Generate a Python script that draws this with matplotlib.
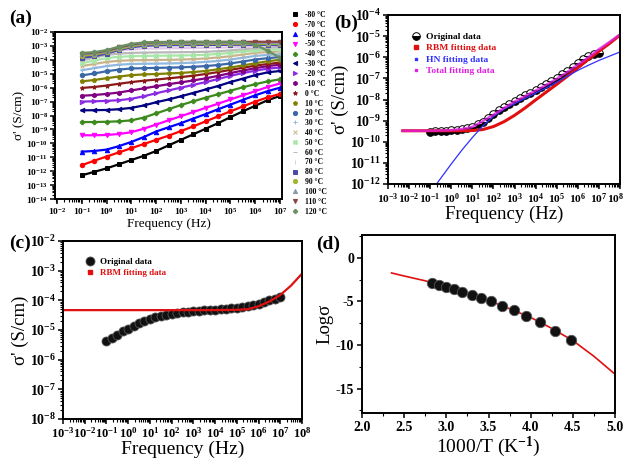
import numpy as np
import matplotlib
matplotlib.use("Agg")
import matplotlib.pyplot as plt
from matplotlib.lines import Line2D
from matplotlib.ticker import LogLocator, MultipleLocator, NullFormatter
from matplotlib.transforms import ScaledTranslation

# ==== FONT SETUP ====
plt.rcParams['font.family'] = ['Liberation Serif', 'DejaVu Serif']
plt.rcParams['font.weight'] = 'bold'
plt.rcParams['mathtext.fontset'] = 'custom'
plt.rcParams['mathtext.rm'] = 'Liberation Serif:bold'
plt.rcParams['mathtext.it'] = 'Liberation Serif:italic:bold'
plt.rcParams['mathtext.bf'] = 'Liberation Serif:bold'
plt.rcParams['axes.linewidth'] = 1.4
plt.rcParams['axes.unicode_minus'] = False


# ==== DATA: panel (a), log10(sigma') vs log10(f) ====
freq_a = [-1, -0.5, 0, 0.5, 1, 1.5, 2, 2.5, 3, 3.5, 4, 4.5, 5, 5.5, 6, 6.5, 7]

s_m80 = [-12.3, -12.05, -11.8, -11.5, -11.2, -10.9, -10.55, -10.15, -9.75, -9.35, -8.95, -8.55, -8.12, -7.7, -7.3, -6.9, -6.6]
s_m70 = [-11.57, -11.25, -10.95, -10.65, -10.35, -10.05, -9.75, -9.45, -9.12, -8.78, -8.42, -8.06, -7.7, -7.35, -7.0, -6.7, -6.45]
s_m60 = [-10.6, -10.55, -10.45, -10.2, -9.9, -9.55, -9.15, -8.85, -8.55, -8.22, -7.9, -7.55, -7.22, -6.88, -6.55, -6.25, -6.0]
s_m50 = [-9.42, -9.42, -9.4, -9.33, -9.2, -8.95, -8.65, -8.35, -8.05, -7.75, -7.45, -7.15, -6.85, -6.55, -6.25, -5.95, -5.7]
s_m40 = [-8.47, -8.47, -8.45, -8.42, -8.35, -8.15, -7.85, -7.55, -7.25, -6.98, -6.72, -6.47, -6.22, -5.97, -5.75, -5.55, -5.4]
s_m30 = [-7.63, -7.62, -7.6, -7.55, -7.45, -7.28, -7.05, -6.85, -6.62, -6.38, -6.13, -5.88, -5.6, -5.35, -5.1, -4.9, -4.8]
s_m20 = [-7.0, -6.98, -6.95, -6.9, -6.8, -6.62, -6.4, -6.2, -6.0, -5.8, -5.6, -5.38, -5.15, -4.95, -4.78, -4.63, -4.55]
s_m10 = [-6.58, -6.53, -6.45, -6.35, -6.2, -6.05, -5.9, -5.75, -5.62, -5.48, -5.33, -5.15, -4.95, -4.77, -4.6, -4.45, -4.35]
s_p0 = [-6.02, -5.95, -5.85, -5.72, -5.6, -5.5, -5.42, -5.33, -5.24, -5.14, -5.02, -4.88, -4.72, -4.57, -4.42, -4.3, -4.2]
s_p10 = [-5.55, -5.45, -5.32, -5.2, -5.1, -5.05, -5.02, -4.98, -4.94, -4.88, -4.8, -4.68, -4.55, -4.4, -4.25, -4.1, -4.0]
s_p20 = [-5.12, -4.98, -4.82, -4.7, -4.62, -4.6, -4.58, -4.56, -4.54, -4.5, -4.45, -4.37, -4.26, -4.12, -3.98, -3.88, -3.8]
s_p30 = [-4.75, -4.6, -4.45, -4.35, -4.3, -4.28, -4.27, -4.26, -4.24, -4.2, -4.15, -4.08, -3.98, -3.85, -3.72, -3.64, -3.6]
s_p40 = [-4.45, -4.3, -4.15, -4.07, -4.03, -4.02, -4.01, -4.0, -3.98, -3.95, -3.9, -3.83, -3.74, -3.62, -3.5, -3.44, -3.4]
s_p50 = [-4.25, -4.05, -3.88, -3.78, -3.74, -3.72, -3.71, -3.7, -3.69, -3.67, -3.64, -3.58, -3.5, -3.4, -3.32, -3.27, -3.25]
s_p60 = [-4.05, -3.85, -3.65, -3.55, -3.5, -3.48, -3.47, -3.46, -3.45, -3.44, -3.42, -3.38, -3.32, -3.24, -3.17, -3.12, -3.1]
s_p70 = [-3.9, -3.7, -3.5, -3.35, -3.25, -3.2, -3.18, -3.17, -3.16, -3.15, -3.14, -3.12, -3.1, -3.07, -3.04, -3.01, -3.0]
s_p80 = [-3.85, -3.75, -3.55, -3.3, -3.1, -3.0, -2.96, -2.95, -2.94, -2.94, -2.93, -2.93, -2.92, -2.92, -2.92, -2.93, -2.95]
s_p90 = [-3.7, -3.62, -3.45, -3.22, -3.02, -2.9, -2.86, -2.85, -2.84, -2.84, -2.84, -2.84, -2.84, -2.84, -2.84, -2.85, -2.86]
s_p100 = [-3.6, -3.55, -3.4, -3.15, -2.95, -2.84, -2.8, -2.79, -2.78, -2.78, -2.78, -2.78, -2.78, -2.78, -2.78, -2.79, -2.8]
s_p110 = [-3.55, -3.5, -3.35, -3.1, -2.9, -2.78, -2.74, -2.73, -2.72, -2.72, -2.72, -2.72, -2.72, -2.71, -2.7, -2.7, -2.7]
s_p120 = [-3.5, -3.45, -3.3, -3.05, -2.85, -2.75, -2.72, -2.71, -2.7, -2.7, -2.7, -2.7, -2.7, -2.72, -2.9, -3.35, -3.85]

temp_labels = ['-80 °C', '-70 °C', '-60 °C', '-50 °C', '-40 °C', '-30 °C', '-20 °C',
               '-10 °C', '0 °C', '10 °C', '20 °C', '30 °C', '40 °C', '50 °C', '60 °C',
               '70 °C', '80 °C', '90 °C', '100 °C', '110 °C', '120 °C']
curves_a = [s_m80, s_m70, s_m60, s_m50, s_m40, s_m30, s_m20, s_m10, s_p0, s_p10, s_p20,
            s_p30, s_p40, s_p50, s_p60, s_p70, s_p80, s_p90, s_p100, s_p110, s_p120]
colors_a = ['#000000', '#ff0000', '#0000ff', '#ff00ff', '#3c8a1e', '#000080', '#8a2be2',
            '#800080', '#8b1a1a', '#808000', '#3a67a8', '#8fb8e0', '#c8b48c', '#a8e6a8',
            '#b8b8b8', '#e0c8e8', '#4a4aa8', '#a0b430', '#8898a8', '#8b4444', '#6a8f60']
markers_a = ['s', 'o', '^', 'v', 'P', '<', '>', 'h', '*', 'p', 'o', '+', 'x', 'X', '_',
             '|', 's', 'o', '^', 'v', 'P']

# ==== DATA: panel (b) ====
freq_b = [-1, -0.75, -0.5, -0.25, 0, 0.25, 0.5, 0.75, 1, 1.25, 1.5, 1.75, 2, 2.25, 2.5, 2.75,
          3, 3.25, 3.5, 3.75, 4, 4.25, 4.5, 4.75, 5, 5.25, 5.5, 5.75, 6, 6.25, 6.5, 6.75, 7]
orig_b = [-9.52, -9.51, -9.5, -9.48, -9.46, -9.43, -9.4, -9.35, -9.28, -9.18, -9.05, -8.88,
          -8.68, -8.5, -8.35, -8.2, -8.05, -7.92, -7.8, -7.67, -7.53, -7.4, -7.26, -7.11,
          -6.96, -6.8, -6.63, -6.45, -6.27, -6.1, -5.95, -5.85, -5.78]
fit_f_b = [-2.3, -1.5, -1, -0.5, 0, 0.5, 1, 1.5, 2, 2.5, 3, 3.5, 4, 4.5, 5, 5.5, 6, 6.5, 7, 7.5, 8]
rbm_b = [-9.48, -9.48, -9.48, -9.48, -9.48, -9.48, -9.47, -9.42, -9.28, -9.05, -8.75, -8.4,
         -8.02, -7.65, -7.28, -6.9, -6.5, -6.1, -5.72, -5.35, -4.95]
total_b = [-9.48, -9.48, -9.48, -9.47, -9.45, -9.4, -9.3, -9.02, -8.72, -8.4, -8.1, -7.84,
           -7.58, -7.31, -7.02, -6.7, -6.35, -6.0, -5.62, -5.28, -4.92]
hn_f_b = [-0.7, 0, 0.5, 1, 1.5, 2, 2.5, 3, 3.5, 4, 4.5, 5, 5.5, 6, 6.5, 7, 7.5, 8]
hn_b = [-12.0, -11.05, -10.4, -9.8, -9.25, -8.8, -8.45, -8.2, -7.95, -7.7, -7.45, -7.18,
        -6.9, -6.62, -6.38, -6.15, -5.95, -5.75]

# ==== DATA: panel (c) ====
freq_c = freq_b
orig_c = [-5.38, -5.27, -5.16, -5.05, -4.95, -4.86, -4.78, -4.7, -4.63, -4.57, -4.52, -4.48,
          -4.45, -4.42, -4.4, -4.38, -4.37, -4.355, -4.34, -4.325, -4.31, -4.295, -4.28,
          -4.265, -4.25, -4.23, -4.2, -4.165, -4.12, -4.07, -4.0, -3.94, -3.88]
fit_f_c = [-3, -2, -1, 0, 1, 2, 3, 4, 5, 5.5, 6, 6.5, 7, 7.5, 8]
rbm_c = [-4.33, -4.33, -4.33, -4.33, -4.33, -4.33, -4.33, -4.33, -4.32, -4.3, -4.2, -4.04,
         -3.82, -3.5, -3.1]

# ==== DATA: panel (d) ====
inv_t = [2.83, 2.915, 3.0, 3.095, 3.19, 3.30, 3.41, 3.53, 3.66, 3.80, 3.95, 4.11, 4.29, 4.48]
log_sig = [-2.88, -3.1, -3.35, -3.62, -3.93, -4.25, -4.62, -5.02, -5.52, -6.02, -6.63, -7.35, -8.4, -9.4]
inv_t_fit = [2.35, 2.5, 2.75, 3.0, 3.25, 3.5, 3.75, 4.0, 4.25, 4.5, 4.75, 5.0]
log_sig_fit = [-1.75, -2.1, -2.65, -3.3, -4.05, -4.9, -5.85, -6.85, -8.1, -9.5, -11.3, -13.35]


def style_log_axis(ax, xdec, ydec, xsize, ysize):
    ax.set_xscale('log')
    ax.set_yscale('log')
    ax.set_xticks([10.0 ** k for k in xdec])
    ax.set_yticks([10.0 ** k for k in ydec])
    for axis in (ax.xaxis, ax.yaxis):
        axis.set_minor_locator(LogLocator(base=10, subs=np.arange(2, 10), numticks=200))
        axis.set_minor_formatter(NullFormatter())
    ax.tick_params(which='major', direction='out', length=3.5, width=1.1, pad=1.5)
    ax.tick_params(which='minor', direction='out', length=2, width=0.8)
    ax.tick_params(axis='x', labelsize=xsize)
    ax.tick_params(axis='y', labelsize=ysize)


fig = plt.figure(figsize=(6.24, 4.59), dpi=100)
W, H = 624.0, 459.0


def add_axes(left, top, right, bottom):
    return fig.add_axes([left / W, 1 - bottom / H, (right - left) / W, (bottom - top) / H])


# ==== PANEL (a) ====
ax_a = add_axes(55, 32, 282, 199)
f_a = [10.0 ** v for v in freq_a]
for vals, c, m in zip(curves_a, colors_a, markers_a):
    ax_a.plot(f_a, [10.0 ** v for v in vals], color=c, lw=1.6, marker=m, ms=3.2, mew=0.7)
style_log_axis(ax_a, range(-2, 8), range(-14, -1), 6.8, 6.8)
ax_a.set_xlim(10 ** -2.08, 10 ** 7.08)
ax_a.set_ylim(1e-14, 1e-2)
ax_a.set_xlabel('Frequency (Hz)', fontsize=9.5, labelpad=1)
ax_a.set_ylabel("σ' (S/cm)", fontsize=9.5, labelpad=1)

handles_a = [Line2D([], [], ls='none', color=c, marker=m, ms=3, mew=0.7)
             for c, m in zip(colors_a, markers_a)]
fig.legend(handles_a, temp_labels, loc='upper left', bbox_to_anchor=(292 / W, 1 - 11 / H),
           frameon=False, prop={'size': 5.5, 'weight': 'bold'}, labelspacing=0.24,
           handlelength=0.8, handletextpad=0.9, borderpad=0, borderaxespad=0)

# ==== PANEL (b) ====
ax_b = add_axes(388, 15, 620, 184)
ax_b.plot([10.0 ** v for v in freq_b], [10.0 ** v for v in orig_b], ls='none', marker='o',
          ms=5.5, fillstyle='bottom', mfc='black', markerfacecoloralt='white', mec='black', mew=0.7)
ax_b.plot([10.0 ** v for v in fit_f_b], [10.0 ** v for v in rbm_b], color='#e01010', lw=2.2)
ax_b.plot([10.0 ** v for v in hn_f_b], [10.0 ** v for v in hn_b], color='#3030ff', lw=0.9)
ax_b.plot([10.0 ** v for v in fit_f_b], [10.0 ** v for v in total_b], color='#e020e0', lw=1.8, alpha=0.8)
style_log_axis(ax_b, range(-3, 9), range(-12, -3), 8.2, 10)
ax_b.set_xlim(1e-3, 1e8)
ax_b.set_ylim(1e-12, 1e-4)
ax_b.set_xlabel('Frequency (Hz)', fontsize=13.5, labelpad=0)
ax_b.set_ylabel("σ' (S/cm)", fontsize=13.5, labelpad=1)
# nudge the last tick label so it stays inside the figure
last_tick = ax_b.xaxis.get_major_ticks()[-1]
last_tick.label1.set_transform(last_tick.label1.get_transform()
                               + ScaledTranslation(-3 / 72, 0, fig.dpi_scale_trans))

handles_b = [Line2D([], [], ls='none', marker='o', ms=5.5, fillstyle='bottom', mfc='black',
                    markerfacecoloralt='white', mec='black', mew=0.7),
             Line2D([], [], ls='none', marker='s', ms=2.2, color='#e01010'),
             Line2D([], [], ls='none', marker='s', ms=1.5, color='#3030ff'),
             Line2D([], [], ls='none', marker='s', ms=1.5, color='#e020e0')]
leg_b = ax_b.legend(handles_b, ['Original data', 'RBM fitting data', 'HN fitting data',
                                'Total fitting data'],
                    loc='upper left', bbox_to_anchor=(0.08, 0.925), frameon=False,
                    prop={'size': 6.8, 'weight': 'bold'}, labelspacing=0.3,
                    handlelength=1.0, handletextpad=0.6, borderpad=0)
for t, c in zip(leg_b.get_texts(), ['black', '#e01010', '#3030ff', '#e020e0']):
    t.set_color(c)

# ==== PANEL (c) ====
ax_c = add_axes(63, 241, 302, 419)
ax_c.plot([10.0 ** v for v in freq_c], [10.0 ** v for v in orig_c], ls='none', marker='o',
          ms=6.5, mfc='#111111', mec='#555555', mew=0.6)
ax_c.plot([10.0 ** v for v in fit_f_c], [10.0 ** v for v in rbm_c], color='#e01010', lw=1.6)
style_log_axis(ax_c, range(-3, 9), range(-8, -1), 9.0, 10)
ax_c.set_xlim(1e-3, 1e8)
ax_c.set_ylim(1e-8, 1e-2)
ax_c.set_xlabel('Frequency (Hz)', fontsize=14, labelpad=0)
ax_c.set_ylabel("σ' (S/cm)", fontsize=13.5, labelpad=1)

handles_c = [Line2D([], [], ls='none', marker='o', ms=6.5, mfc='#111111', mec='#555555', mew=0.6),
             Line2D([], [], ls='none', marker='s', ms=2.2, color='#e01010')]
leg_c = ax_c.legend(handles_c, ['Original data', 'RBM fitting data'], loc='upper left',
                    bbox_to_anchor=(0.075, 0.93), frameon=False,
                    prop={'size': 6.5, 'weight': 'bold'}, labelspacing=0.3,
                    handlelength=1.0, handletextpad=0.6, borderpad=0)
leg_c.get_texts()[1].set_color('#e01010')

# ==== PANEL (d) ====
ax_d = add_axes(362, 235, 615, 413)
ax_d.plot(inv_t_fit, log_sig_fit, color='#e01010', lw=1.2)
ax_d.plot(inv_t, log_sig, ls='none', marker='o', ms=7.5, mfc='#111111', mec='#555555', mew=0.6)
ax_d.set_xlim(2.0, 5.0)
ax_d.set_ylim(-17.8, 2.6)
ax_d.xaxis.set_major_locator(MultipleLocator(0.5))
ax_d.xaxis.set_minor_locator(MultipleLocator(0.25))
ax_d.yaxis.set_major_locator(MultipleLocator(5))
ax_d.yaxis.set_minor_locator(MultipleLocator(2.5))
ax_d.tick_params(which='major', direction='out', length=3.5, width=1.1, labelsize=10, pad=2)
ax_d.tick_params(which='minor', direction='out', length=2, width=0.8)
ax_d.set_xlabel('1000/T (K$^{-1}$)', fontsize=14, labelpad=1)
ax_d.set_ylabel('Logσ', fontsize=13.5, labelpad=2)

# ==== PANEL LABELS ====
for txt, x, y in [('(a)', 21, 18), ('(b)', 346, 23), ('(c)', 20, 243), ('(d)', 328, 244)]:
    fig.text(x / W, 1 - y / H, txt, fontsize=14, fontweight='bold', ha='center', va='center')

fig.savefig('out.png', dpi=100)
